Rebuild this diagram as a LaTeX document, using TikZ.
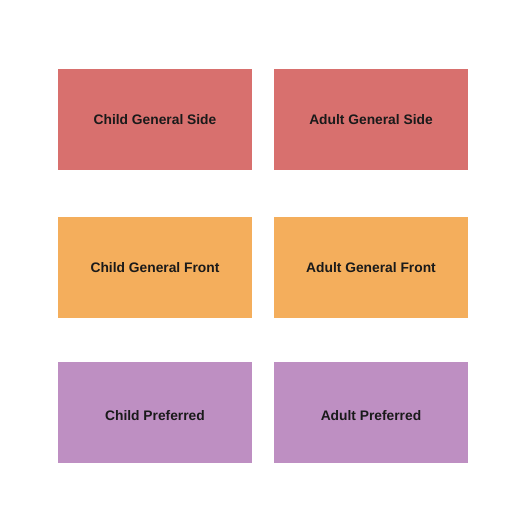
\documentclass[tikz,border=0pt]{standalone}
\usepackage{fontspec}
\setmainfont{Liberation Sans}
\definecolor{sideclr}{HTML}{D8706E}
\definecolor{frontclr}{HTML}{F4AE5C}
\definecolor{prefclr}{HTML}{BE8FC2}
\definecolor{labelclr}{HTML}{1A1A1A}
\tikzset{
	seat/.style={rectangle, draw=none, minimum width=194pt, minimum height=101pt, inner sep=0pt,
		text=labelclr, font=\fontsize{13.8}{16}\selectfont\bfseries},
	lowlabel/.style={text height=16pt, text depth=0pt}
}

\begin{document}
\begin{tikzpicture}[x=1pt,y=-1pt]
%\draw [help lines] (0,0) grid (525,525);
\useasboundingbox (0,0) rectangle (525,525);

%general side
\node [seat, fill=sideclr] (childside) at (155,119.5) {Child General Side};
\node [seat, fill=sideclr] (adultside) at (371,119.5) {Adult General Side};
%general front
\node [seat, fill=frontclr] (childfront) at (155,267.5) {Child General Front};
\node [seat, fill=frontclr] (adultfront) at (371,267.5) {Adult General Front};
%preferred (label sits a little low)
\node [seat, lowlabel, fill=prefclr] (childpref) at (155,412.5) {Child Preferred};
\node [seat, lowlabel, fill=prefclr] (adultpref) at (371,412.5) {Adult Preferred};
\end{tikzpicture}
\end{document}
